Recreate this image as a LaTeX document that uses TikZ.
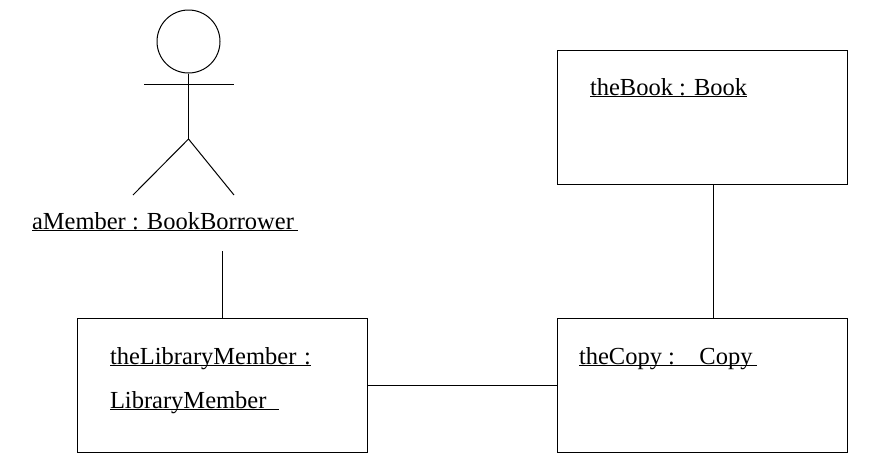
\documentclass[tikz,border=0pt]{standalone}
\usepackage{fontspec}
\setmainfont{Liberation Serif}
\usetikzlibrary{positioning}
\newcommand{\ulabel}[1]{\underline{\smash{#1}}}
\begin{document}
\begin{tikzpicture}[x=1pt,y=-1pt,line width=1pt,
		objbox/.style={rectangle,draw=black,minimum width=290pt,minimum height=134pt,inner sep=0pt},
		objtext/.style={anchor=base west,inner sep=0pt,font=\fontsize{24.5}{28}\selectfont}]
		\useasboundingbox (0,0) rectangle (870,472);
		% boxes
		\node[objbox] (book)   at (702.5,117.5) {};
		\node[objbox] (copy)   at (702.5,385.5) {};
		\node[objbox] (member) at (222.5,385.5) {};

		% box texts
		\node[objtext] (booklabel)    at (589.5,95)  {\ulabel{theBook : Book}};
		\node[objtext] (copylabel)    at (578.5,364) {\ulabel{theCopy :\ \ \ \ Copy\hspace{4pt}}};
		\node[objtext] (memberlabel)  at (109.5,364) {\ulabel{theLibraryMember\hspace{1.5pt} :}};
		\node[objtext] (memberlabelb) at (109.5,408) {\ulabel{LibraryMember\ \ }};

		% the actor
		\node[circle,draw=black,minimum size=63pt,inner sep=0pt] (head) at (188.5,41.5) {};
		\coordinate (armleft)  at (144,84.5);
		\coordinate (armright) at (234,84.5);
		\coordinate (armmid)   at (188.5,84.5);
		\coordinate (hip)      at (188.5,139);
		\coordinate (footleft) at (133,195);
		\coordinate (footright) at (234,195);
		\draw (armleft) -- (armright);
		\draw (head.south) -- (armmid) -- (hip);
		\draw (footleft) -- (hip) -- (footright);
		\node[objtext] (actorlabel) at (31.5,229) {\ulabel{aMember : BookBorrower\hspace{4pt}}};

		% links
		\coordinate (actorlink) at (222.5,251);
		\draw (actorlink) -- (actorlink |- member.north);
		\draw (member.east) -- (copy.west);
		\draw (book.south -| 713.5,0) -- (copy.north -| 713.5,0);
\end{tikzpicture}
\end{document}
